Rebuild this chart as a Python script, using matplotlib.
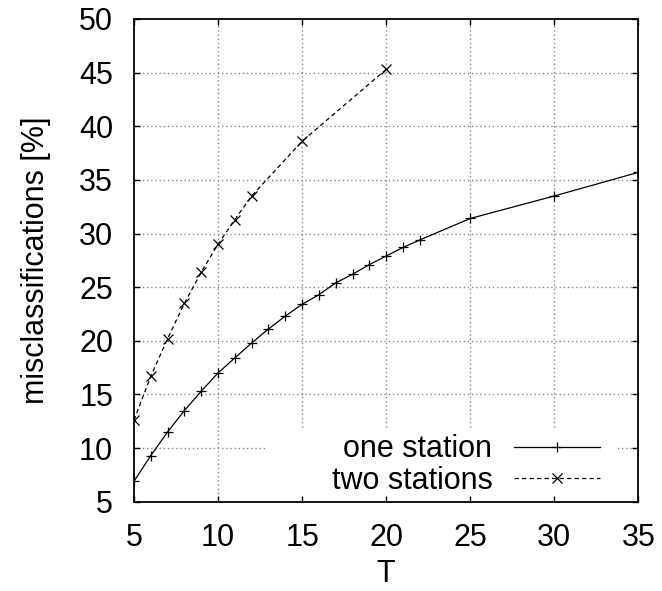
import matplotlib
matplotlib.use("Agg")
import matplotlib.pyplot as plt
from matplotlib.patches import Rectangle

# data
t_one = [5, 6, 7, 8, 9, 10, 11, 12, 13, 14, 15, 16, 17, 18, 19, 20, 21, 22, 25, 30, 35]
miss_one = [6.9, 9.3, 11.5, 13.5, 15.3, 17.0, 18.4, 19.8, 21.1, 22.3, 23.4, 24.3,
            25.4, 26.2, 27.1, 27.9, 28.7, 29.4, 31.4, 33.5, 35.7]

t_two = [5, 6, 7, 8, 9, 10, 11, 12, 15, 20]
miss_two = [12.6, 16.7, 20.2, 23.5, 26.4, 29.0, 31.3, 33.5, 38.6, 45.3]

x_ticks = [5, 10, 15, 20, 25, 30, 35]
y_ticks = [5, 10, 15, 20, 25, 30, 35, 40, 45, 50]

plt.rcParams['font.family'] = ['Liberation Sans', 'DejaVu Sans']
fs = 22

fig = plt.figure(figsize=(6.62, 5.91), dpi=100)
ax = fig.add_axes([0.2024, 0.1511, 0.9642 - 0.2024, 0.9679 - 0.1511])

# grid drawn by hand so the key box can hide it
for x in x_ticks[1:-1]:
    ax.axvline(x, color='#888888', linestyle=(0, (1, 2)), linewidth=1.0, zorder=1)
for y in y_ticks[1:-1]:
    ax.axhline(y, color='#888888', linestyle=(0, (1, 2)), linewidth=1.0, zorder=1)

# white key box like gnuplot
ax.add_patch(Rectangle((0.26, 0.0), 0.70, 0.153, transform=ax.transAxes,
                       facecolor='white', edgecolor='none', zorder=1.1))

ax.plot(t_one, miss_one, color='black', linewidth=0.9, marker='+', markersize=7,
        markeredgewidth=0.9, label='one station', zorder=2)
ax.plot(t_two, miss_two, color='black', linewidth=0.9, linestyle=(0, (3.5, 2.5)),
        marker='x', markersize=6.5, markeredgewidth=0.9, label='two stations', zorder=2)

ax.set_xlim(5, 35)
ax.set_ylim(5, 50)
ax.set_xticks(x_ticks)
ax.set_yticks(y_ticks)
ax.tick_params(direction='in', length=4.5, width=1.0, top=True, right=True,
               labelsize=fs, pad=15)
ax.set_axisbelow(False)
for s in ax.spines.values():
    s.set_linewidth(1.3)

ax.set_xlabel('T', fontsize=fs, labelpad=5)
ax.set_ylabel('misclassifications [%]', fontsize=fs, labelpad=20)

leg = ax.legend(loc='lower right', bbox_to_anchor=(0.924, 0.012), frameon=False,
                markerfirst=False, fontsize=fs, handlelength=2.8, handletextpad=0.72,
                labelspacing=0.05, borderpad=0, borderaxespad=0)
leg.set_zorder(3)
for txt in leg.get_texts():
    txt.set_ha('right')
leg._legend_box.align = 'right'

fig.savefig('out.png', dpi=100)
